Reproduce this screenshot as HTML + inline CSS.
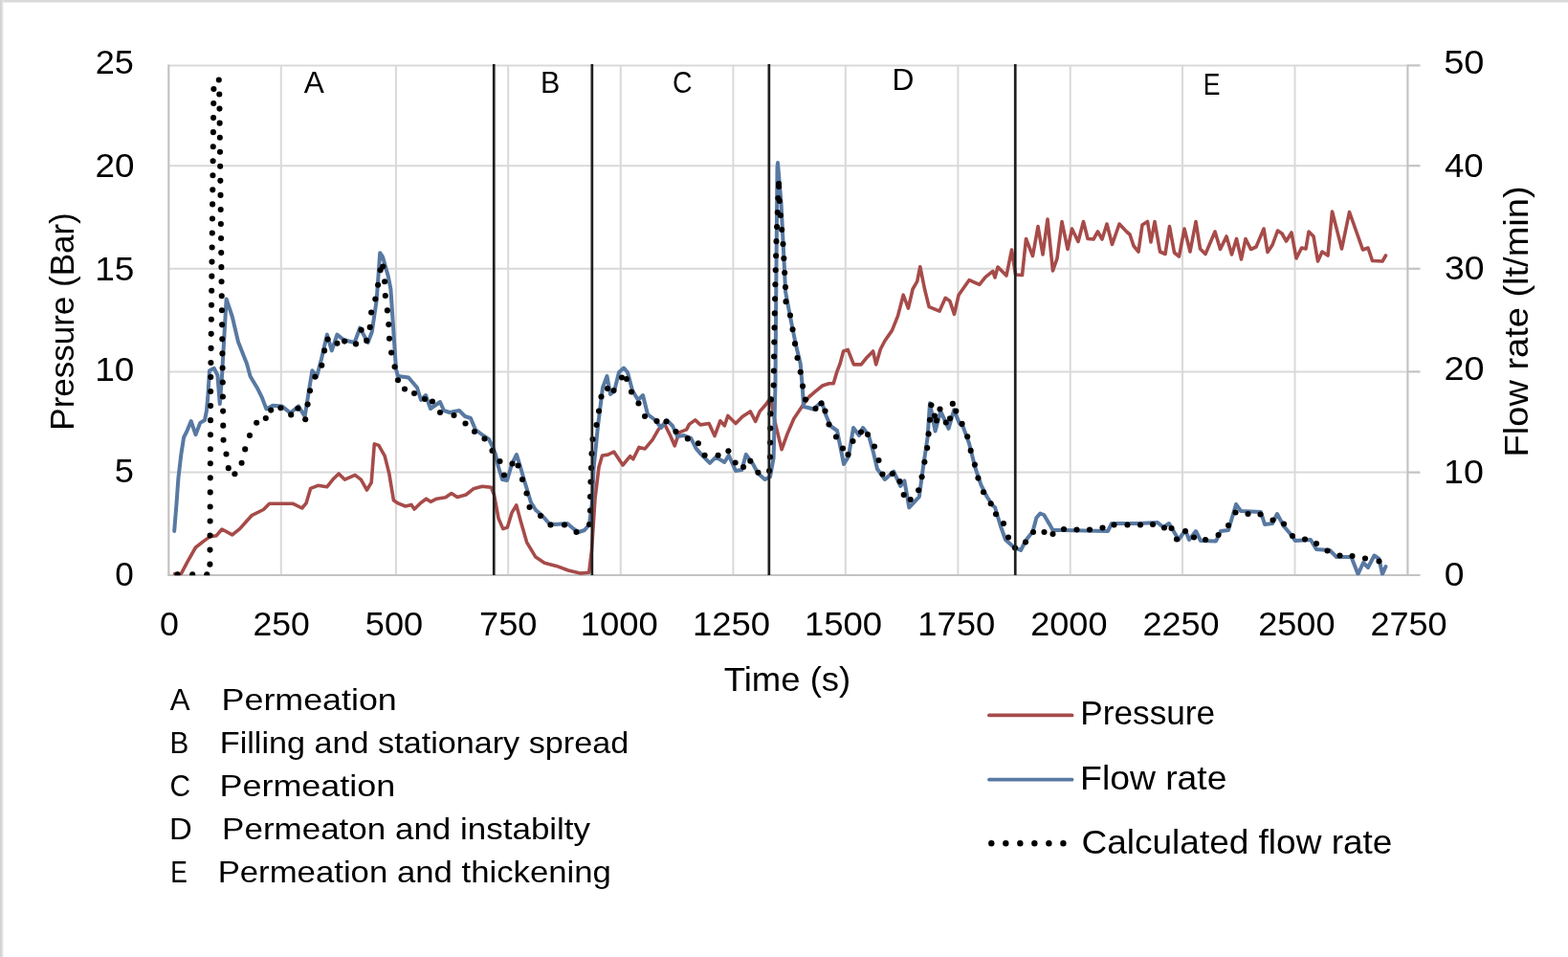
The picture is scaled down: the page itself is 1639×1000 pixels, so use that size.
<!DOCTYPE html>
<html><head><meta charset="utf-8"><title>Pressure and flow rate vs time</title>
<style>
html,body{margin:0;padding:0;background:#fff;}
body{width:1639px;height:1000px;overflow:hidden;}
svg{display:block;}
</style></head><body>
<svg width="1639" height="1000" viewBox="0 0 1639 1000">
<rect x="0" y="0" width="1639" height="1000" fill="#ffffff"/>
<rect x="0" y="0" width="1639" height="2" fill="#d9d9d9"/>
<rect x="0" y="2" width="1639" height="1" fill="#ececec"/>
<rect x="0" y="0" width="2.5" height="1000" fill="#d4d4d4"/>
<rect x="2.5" y="0" width="1" height="1000" fill="#e8e8e8"/>
<g stroke="#d9d9d9" stroke-width="2" fill="none">
<line x1="293.8" y1="68.4" x2="293.8" y2="601.0"/>
<line x1="413.9" y1="68.4" x2="413.9" y2="601.0"/>
<line x1="531.2" y1="68.4" x2="531.2" y2="601.0"/>
<line x1="648.8" y1="68.4" x2="648.8" y2="601.0"/>
<line x1="766.4" y1="68.4" x2="766.4" y2="601.0"/>
<line x1="883.8" y1="68.4" x2="883.8" y2="601.0"/>
<line x1="1001.4" y1="68.4" x2="1001.4" y2="601.0"/>
<line x1="1118.7" y1="68.4" x2="1118.7" y2="601.0"/>
<line x1="1236.0" y1="68.4" x2="1236.0" y2="601.0"/>
<line x1="1353.5" y1="68.4" x2="1353.5" y2="601.0"/>
<line x1="176.3" y1="68.4" x2="1471.4" y2="68.4"/>
<line x1="176.3" y1="173.2" x2="1471.4" y2="173.2"/>
<line x1="176.3" y1="280.8" x2="1471.4" y2="280.8"/>
<line x1="176.3" y1="388.4" x2="1471.4" y2="388.4"/>
<line x1="176.3" y1="493.6" x2="1471.4" y2="493.6"/>
</g>
<g stroke="#c3c3c3" stroke-width="2.2" fill="none">
<line x1="176.3" y1="67.4" x2="176.3" y2="602.0"/>
<line x1="1471.4" y1="67.4" x2="1471.4" y2="602.0"/>
<line x1="175.3" y1="601.0" x2="1484.5" y2="601.0"/>
<line x1="1471.4" y1="68.4" x2="1484.5" y2="68.4"/>
<line x1="1471.4" y1="173.2" x2="1484.5" y2="173.2"/>
<line x1="1471.4" y1="280.8" x2="1484.5" y2="280.8"/>
<line x1="1471.4" y1="388.4" x2="1484.5" y2="388.4"/>
<line x1="1471.4" y1="493.6" x2="1484.5" y2="493.6"/>
</g>
<clipPath id="pa"><rect x="170" y="40" width="1310" height="561.2"/></clipPath>
<g clip-path="url(#pa)">
<polyline points="182.6,599.6 189.3,599.6 195.9,587.2 204.5,572.0 213.0,565.4 219.7,560.6 226.3,559.7 232.0,553.0 242.8,558.8 250.6,552.6 263.0,538.7 275.4,532.5 281.6,526.3 306.4,526.3 315.7,531.0 320.0,525.9 324.6,510.4 332.4,507.3 341.7,508.8 347.9,501.1 354.1,494.9 360.3,501.1 371.1,496.4 377.3,501.1 383.5,512.0 388.2,504.2 391.3,463.9 395.9,465.4 402.1,476.3 406.8,494.9 411.4,522.8 416.1,525.9 423.8,529.0 430.0,527.4 433.1,532.1 439.3,525.9 445.5,521.2 450.2,524.3 456.4,521.2 465.7,519.7 471.9,515.5 478.0,519.5 487.0,517.0 494.8,510.8 504.1,508.3 513.4,509.2 516.5,517.0 521.1,541.8 525.8,552.6 530.4,551.1 535.1,535.6 539.7,527.8 544.4,544.9 550.6,566.6 559.9,582.1 569.2,588.3 581.6,591.4 594.0,596.0 606.4,599.1 615.7,598.2 618.5,575.0 622.0,521.0 626.0,488.0 629.5,476.0 635.5,475.1 641.7,472.0 651.0,486.0 658.7,476.7 661.8,479.8 668.0,467.4 674.2,468.9 682.0,459.6 688.2,448.8 694.4,442.6 700.6,455.0 705.2,465.8 709.9,451.9 717.6,448.8 720.4,443.4 726.7,438.9 732.1,443.9 741.1,442.5 747.0,455.6 752.8,439.8 757.3,444.8 760.9,434.4 769.0,442.5 776.2,435.3 784.3,429.9 789.7,440.3 794.2,429.9 800.5,422.7 805.5,416.0 810.4,442.5 817.1,469.7 822.9,453.6 829.8,437.5 839.0,423.7 845.9,414.5 852.8,408.7 859.7,403.0 866.6,400.7 871.2,400.7 874.6,389.2 878.1,380.0 881.6,367.0 886.2,365.4 892.4,380.9 900.2,380.9 906.4,373.2 912.6,367.0 915.7,380.9 920.3,365.0 925.0,356.0 932.4,345.4 938.6,329.9 944.2,308.2 949.4,322.1 954.1,302.0 958.7,294.2 961.8,278.7 966.5,302.0 971.1,320.6 982.0,325.2 988.2,311.3 992.8,314.4 997.5,328.3 1002.1,308.2 1013.0,292.7 1023.8,297.3 1030.0,289.6 1037.8,283.4 1040.0,290.0 1043.0,279.0 1052.0,288.0 1057.5,261.0 1061.5,287.0 1068.5,287.5 1072.5,249.5 1079.5,267.5 1085.0,236.5 1090.0,266.0 1095.0,229.0 1100.5,283.0 1105.0,270.0 1110.0,231.5 1116.0,260.5 1120.5,239.0 1127.0,252.5 1132.5,231.5 1137.0,249.5 1143.0,250.0 1147.5,242.0 1152.0,250.0 1157.0,234.0 1162.5,255.5 1170.0,234.0 1178.0,242.5 1181.0,245.0 1185.0,257.0 1190.0,263.0 1194.0,235.0 1199.5,231.5 1203.0,253.0 1207.0,231.5 1212.5,263.0 1218.0,265.5 1222.5,236.5 1227.5,264.0 1232.5,268.0 1238.0,239.0 1244.0,263.0 1250.0,231.5 1254.5,260.0 1260.0,265.5 1270.0,242.0 1275.5,260.5 1282.0,247.0 1287.5,266.0 1292.5,249.5 1297.5,271.0 1302.0,249.5 1307.5,260.5 1313.0,258.0 1321.0,239.0 1325.0,263.5 1330.0,256.0 1335.5,241.0 1340.0,244.0 1344.5,252.0 1350.0,243.0 1355.0,270.0 1360.5,259.0 1365.0,260.0 1368.0,242.0 1373.0,247.0 1377.5,273.0 1382.0,263.0 1388.0,267.0 1392.5,221.0 1402.5,260.0 1410.5,221.5 1424.5,261.0 1430.0,259.0 1434.5,272.5 1445.0,273.0 1448.5,267.0" fill="none" stroke="#a64b49" stroke-width="3.6" stroke-linejoin="round" stroke-linecap="round"/>
<polyline points="182.2,554.9 184.5,526.4 186.4,499.8 189.3,475.1 192.1,457.0 195.0,451.4 199.7,440.0 204.5,454.2 209.2,441.9 214.0,439.0 215.9,429.5 217.2,416.0 219.0,387.2 223.8,384.8 227.4,392.0 229.8,422.0 232.0,393.0 236.6,312.4 242.8,331.0 249.0,357.3 258.0,380.0 261.6,393.2 268.8,405.2 273.6,414.8 278.4,427.4 285.0,423.8 294.6,424.4 303.6,431.6 312.0,424.4 318.6,435.2 324.0,401.6 326.4,387.2 331.2,393.2 336.0,375.0 341.9,349.6 346.8,366.4 352.4,349.6 359.4,355.2 370.6,358.0 376.2,342.6 384.6,358.0 388.8,346.8 393.7,313.2 397.2,264.2 400.0,268.4 405.6,288.0 408.4,302.0 411.2,344.0 414.0,386.0 416.0,393.0 427.0,394.5 436.0,405.0 440.0,418.0 445.0,413.0 450.0,427.0 460.0,420.0 464.0,429.0 470.0,431.0 480.0,429.0 486.0,435.0 492.0,437.0 497.0,449.0 505.0,455.0 511.0,459.0 515.0,467.0 518.0,475.0 521.0,488.0 525.0,501.0 530.0,502.0 535.0,485.0 540.0,475.0 544.0,488.0 548.0,502.0 555.0,525.0 560.0,533.0 567.0,539.0 574.0,547.0 580.0,548.0 593.0,547.0 600.0,553.0 605.0,556.0 611.0,554.0 616.0,548.0 619.0,525.0 620.5,490.0 625.0,445.0 630.0,405.0 634.5,393.0 638.0,412.0 642.0,409.0 647.0,389.0 652.0,384.5 656.0,389.0 661.0,408.0 667.0,418.0 672.0,413.0 677.0,433.0 685.0,439.0 691.0,447.0 697.0,439.0 703.0,445.0 708.0,456.0 715.0,455.0 722.2,457.8 727.6,468.6 733.0,474.9 742.0,483.9 748.3,477.6 757.3,483.0 761.8,475.8 769.0,492.0 775.3,491.1 779.8,474.9 787.0,484.8 792.4,494.7 799.6,501.0 805.0,498.3 808.6,478.5 810.5,400.0 811.3,300.0 812.5,175.0 813.0,170.1 816.5,212.0 819.6,274.0 821.1,305.0 825.8,329.8 832.0,360.8 836.7,380.0 839.0,408.0 840.0,425.0 845.0,426.0 850.0,427.5 859.0,420.0 863.0,433.0 868.0,445.0 875.0,450.0 882.0,485.0 887.0,477.0 892.0,447.0 898.0,455.0 902.0,447.0 908.0,455.0 913.0,473.0 917.0,490.0 925.0,501.0 934.2,492.6 941.2,508.0 945.4,502.4 950.3,530.4 960.8,519.2 965.0,488.0 969.6,457.0 972.0,421.2 977.6,450.6 983.2,429.6 991.6,447.8 997.2,428.2 1002.8,442.2 1006.8,446.1 1013.0,463.2 1019.2,488.0 1025.4,506.6 1031.6,519.0 1037.8,528.3 1040.0,530.0 1046.0,550.0 1051.0,564.0 1060.0,572.0 1067.0,575.0 1072.0,565.0 1079.5,555.5 1083.4,541.0 1087.3,536.5 1091.2,538.0 1098.0,549.6 1100.5,554.0 1110.0,554.0 1158.0,555.0 1162.0,547.0 1190.0,547.0 1210.0,546.0 1216.0,551.0 1222.0,547.0 1232.0,564.0 1239.0,554.0 1243.0,564.0 1250.0,555.0 1255.0,565.0 1271.0,565.5 1276.0,555.0 1284.0,554.0 1292.0,527.0 1297.0,534.0 1318.0,535.0 1322.0,548.0 1330.0,547.0 1335.0,537.0 1342.0,550.0 1348.0,557.0 1354.0,565.0 1370.0,564.0 1376.0,574.0 1390.0,575.0 1397.0,582.0 1412.5,582.0 1419.5,600.0 1425.0,588.0 1430.0,593.0 1436.5,580.5 1441.5,584.0 1445.0,600.0 1448.5,592.0" fill="none" stroke="#5879a2" stroke-width="4.0" stroke-linejoin="round" stroke-linecap="round"/>
<polyline points="223.4,93.0 220.2,400.0 219.4,599.6" fill="none" stroke="#000000" stroke-width="6.1" stroke-linejoin="round" stroke-linecap="round" stroke-dasharray="0 15.05" stroke-dashoffset="0.0"/>
<polyline points="228.8,83.5 229.3,99.0 232.8,400.0 233.4,459.0 236.4,473.6 238.2,488.6 245.4,495.2" fill="none" stroke="#000000" stroke-width="6.1" stroke-linejoin="round" stroke-linecap="round" stroke-dasharray="0 15.05" stroke-dashoffset="0.0"/>
<polyline points="814.0,192.0 812.6,225.0 811.5,252.0 810.5,290.0 809.5,341.0 808.6,404.0 805.5,420.0 805.0,477.0 804.6,492.0" fill="none" stroke="#000000" stroke-width="6.1" stroke-linejoin="round" stroke-linecap="round" stroke-dasharray="0 15.05" stroke-dashoffset="0.0"/>
<polyline points="814.0,192.0 815.0,215.0 818.5,254.5 821.0,300.0 821.5,315.5 826.0,329.5 828.5,344.0 831.0,359.2 833.4,373.6 836.6,388.0 839.0,403.2 842.2,417.6" fill="none" stroke="#000000" stroke-width="6.1" stroke-linejoin="round" stroke-linecap="round" stroke-dasharray="0 15.05" stroke-dashoffset="-3.0"/>
<g fill="#000000"><circle cx="185.5" cy="600.3" r="3.05"/><circle cx="201.2" cy="600.3" r="3.05"/><circle cx="216.3" cy="600.3" r="3.05"/><circle cx="245.4" cy="495.2" r="3.05"/><circle cx="252.6" cy="483.8" r="3.05"/><circle cx="256.2" cy="469.4" r="3.05"/><circle cx="261.0" cy="455.0" r="3.05"/><circle cx="268.2" cy="441.8" r="3.05"/><circle cx="277.8" cy="437.0" r="3.05"/><circle cx="283.2" cy="428.6" r="3.05"/><circle cx="293.4" cy="426.2" r="3.05"/><circle cx="304.2" cy="433.4" r="3.05"/><circle cx="311.4" cy="426.8" r="3.05"/><circle cx="319.2" cy="438.2" r="3.05"/><circle cx="321.6" cy="422.6" r="3.05"/><circle cx="324.0" cy="408.2" r="3.05"/><circle cx="329.4" cy="393.8" r="3.05"/><circle cx="336.3" cy="381.8" r="3.05"/><circle cx="339.1" cy="366.4" r="3.05"/><circle cx="342.6" cy="354.5" r="3.05"/><circle cx="352.4" cy="358.7" r="3.05"/><circle cx="360.1" cy="356.6" r="3.05"/><circle cx="372.0" cy="359.4" r="3.05"/><circle cx="377.6" cy="344.7" r="3.05"/><circle cx="383.2" cy="355.9" r="3.05"/><circle cx="386.7" cy="341.9" r="3.05"/><circle cx="388.1" cy="326.5" r="3.05"/><circle cx="392.3" cy="312.5" r="3.05"/><circle cx="395.1" cy="297.8" r="3.05"/><circle cx="397.6" cy="282.2" r="3.05"/><circle cx="400.3" cy="278.6" r="3.05"/><circle cx="402.1" cy="294.3" r="3.05"/><circle cx="402.8" cy="309.0" r="3.05"/><circle cx="404.9" cy="324.4" r="3.05"/><circle cx="406.3" cy="339.1" r="3.05"/><circle cx="407.0" cy="353.8" r="3.05"/><circle cx="409.1" cy="368.5" r="3.05"/><circle cx="412.6" cy="383.2" r="3.05"/><circle cx="416.0" cy="397.2" r="3.05"/><circle cx="423.0" cy="406.5" r="3.05"/><circle cx="433.0" cy="411.0" r="3.05"/><circle cx="444.0" cy="417.0" r="3.05"/><circle cx="452.0" cy="419.5" r="3.05"/><circle cx="460.0" cy="431.0" r="3.05"/><circle cx="474.5" cy="434.0" r="3.05"/><circle cx="486.5" cy="442.5" r="3.05"/><circle cx="496.0" cy="451.0" r="3.05"/><circle cx="506.5" cy="458.5" r="3.05"/><circle cx="514.5" cy="471.0" r="3.05"/><circle cx="522.5" cy="482.0" r="3.05"/><circle cx="527.0" cy="496.5" r="3.05"/><circle cx="535.5" cy="484.5" r="3.05"/><circle cx="541.5" cy="486.5" r="3.05"/><circle cx="546.0" cy="501.0" r="3.05"/><circle cx="550.5" cy="515.5" r="3.05"/><circle cx="553.5" cy="530.0" r="3.05"/><circle cx="565.0" cy="539.0" r="3.05"/><circle cx="575.5" cy="548.5" r="3.05"/><circle cx="590.0" cy="548.5" r="3.05"/><circle cx="602.5" cy="556.0" r="3.05"/><circle cx="616.0" cy="548.0" r="3.05"/><circle cx="617.0" cy="533.5" r="3.05"/><circle cx="617.0" cy="519.0" r="3.05"/><circle cx="617.5" cy="503.5" r="3.05"/><circle cx="618.0" cy="489.0" r="3.05"/><circle cx="618.5" cy="474.0" r="3.05"/><circle cx="619.5" cy="459.0" r="3.05"/><circle cx="623.5" cy="444.0" r="3.05"/><circle cx="626.0" cy="429.5" r="3.05"/><circle cx="628.5" cy="414.5" r="3.05"/><circle cx="635.0" cy="406.0" r="3.05"/><circle cx="641.5" cy="408.0" r="3.05"/><circle cx="650.0" cy="394.5" r="3.05"/><circle cx="655.0" cy="396.0" r="3.05"/><circle cx="660.0" cy="409.5" r="3.05"/><circle cx="667.5" cy="421.5" r="3.05"/><circle cx="674.0" cy="435.0" r="3.05"/><circle cx="686.5" cy="440.0" r="3.05"/><circle cx="696.5" cy="440.5" r="3.05"/><circle cx="706.5" cy="451.0" r="3.05"/><circle cx="718.8" cy="458.4" r="3.05"/><circle cx="729.9" cy="463.2" r="3.05"/><circle cx="736.6" cy="475.8" r="3.05"/><circle cx="750.6" cy="475.8" r="3.05"/><circle cx="761.4" cy="471.3" r="3.05"/><circle cx="768.6" cy="483.5" r="3.05"/><circle cx="777.1" cy="488.0" r="3.05"/><circle cx="784.3" cy="481.7" r="3.05"/><circle cx="792.4" cy="493.8" r="3.05"/><circle cx="804.1" cy="492.0" r="3.05"/><circle cx="842.0" cy="417.5" r="3.05"/><circle cx="852.5" cy="427.0" r="3.05"/><circle cx="858.5" cy="421.5" r="3.05"/><circle cx="862.5" cy="429.5" r="3.05"/><circle cx="866.5" cy="443.5" r="3.05"/><circle cx="874.0" cy="456.5" r="3.05"/><circle cx="881.0" cy="468.5" r="3.05"/><circle cx="886.5" cy="475.0" r="3.05"/><circle cx="891.5" cy="461.0" r="3.05"/><circle cx="900.0" cy="451.5" r="3.05"/><circle cx="907.0" cy="454.0" r="3.05"/><circle cx="914.0" cy="466.5" r="3.05"/><circle cx="918.5" cy="481.0" r="3.05"/><circle cx="922.5" cy="495.5" r="3.05"/><circle cx="932.9" cy="495.0" r="3.05"/><circle cx="940.5" cy="503.1" r="3.05"/><circle cx="944.7" cy="517.1" r="3.05"/><circle cx="951.7" cy="522.0" r="3.05"/><circle cx="960.1" cy="512.2" r="3.05"/><circle cx="963.6" cy="498.2" r="3.05"/><circle cx="966.4" cy="482.8" r="3.05"/><circle cx="969.2" cy="468.1" r="3.05"/><circle cx="970.6" cy="453.4" r="3.05"/><circle cx="972.0" cy="438.7" r="3.05"/><circle cx="973.4" cy="423.3" r="3.05"/><circle cx="976.9" cy="434.5" r="3.05"/><circle cx="979.0" cy="439.4" r="3.05"/><circle cx="982.5" cy="427.5" r="3.05"/><circle cx="988.8" cy="441.5" r="3.05"/><circle cx="993.0" cy="437.3" r="3.05"/><circle cx="995.8" cy="421.9" r="3.05"/><circle cx="999.3" cy="429.6" r="3.05"/><circle cx="1005.6" cy="442.9" r="3.05"/><circle cx="1011.2" cy="456.2" r="3.05"/><circle cx="1014.7" cy="470.9" r="3.05"/><circle cx="1018.9" cy="485.6" r="3.05"/><circle cx="1022.4" cy="499.6" r="3.05"/><circle cx="1028.0" cy="514.3" r="3.05"/><circle cx="1035.7" cy="526.2" r="3.05"/><circle cx="1041.0" cy="537.3" r="3.05"/><circle cx="1049.0" cy="547.0" r="3.05"/><circle cx="1054.0" cy="561.5" r="3.05"/><circle cx="1061.0" cy="572.5" r="3.05"/><circle cx="1072.0" cy="566.5" r="3.05"/><circle cx="1080.0" cy="556.0" r="3.05"/><circle cx="1091.5" cy="556.0" r="3.05"/><circle cx="1100.5" cy="558.0" r="3.05"/><circle cx="1112.0" cy="553.0" r="3.05"/><circle cx="1125.5" cy="553.5" r="3.05"/><circle cx="1139.0" cy="553.5" r="3.05"/><circle cx="1152.5" cy="551.5" r="3.05"/><circle cx="1164.5" cy="548.5" r="3.05"/><circle cx="1178.5" cy="548.5" r="3.05"/><circle cx="1192.0" cy="548.5" r="3.05"/><circle cx="1205.0" cy="548.0" r="3.05"/><circle cx="1217.0" cy="551.5" r="3.05"/><circle cx="1224.5" cy="552.0" r="3.05"/><circle cx="1230.0" cy="563.5" r="3.05"/><circle cx="1239.0" cy="555.0" r="3.05"/><circle cx="1248.0" cy="561.5" r="3.05"/><circle cx="1260.0" cy="564.0" r="3.05"/><circle cx="1273.5" cy="559.0" r="3.05"/><circle cx="1284.0" cy="549.0" r="3.05"/><circle cx="1291.5" cy="535.5" r="3.05"/><circle cx="1304.5" cy="537.0" r="3.05"/><circle cx="1317.5" cy="537.5" r="3.05"/><circle cx="1330.5" cy="543.5" r="3.05"/><circle cx="1342.0" cy="547.5" r="3.05"/><circle cx="1351.0" cy="560.0" r="3.05"/><circle cx="1364.0" cy="563.5" r="3.05"/><circle cx="1376.0" cy="568.0" r="3.05"/><circle cx="1387.5" cy="575.5" r="3.05"/><circle cx="1400.5" cy="580.5" r="3.05"/><circle cx="1413.5" cy="581.0" r="3.05"/><circle cx="1427.0" cy="583.5" r="3.05"/><circle cx="1441.5" cy="586.5" r="3.05"/></g>
</g>
<line x1="516.25" y1="66.90" x2="516.25" y2="601.00" stroke="#1f1f1f" stroke-width="2.7"/>
<line x1="618.85" y1="66.90" x2="618.85" y2="601.00" stroke="#1f1f1f" stroke-width="2.7"/>
<line x1="803.85" y1="66.90" x2="803.85" y2="601.00" stroke="#1f1f1f" stroke-width="2.7"/>
<line x1="1061.25" y1="66.90" x2="1061.25" y2="601.00" stroke="#1f1f1f" stroke-width="2.7"/>
<g font-family="&apos;Liberation Sans&apos;, Arial, sans-serif" fill="#000000">
<text x="99.80" y="76.80" font-size="34.50" textLength="40.13" lengthAdjust="spacingAndGlyphs">25</text>
<text x="99.46" y="184.60" font-size="34.50" textLength="40.99" lengthAdjust="spacingAndGlyphs">20</text>
<text x="99.19" y="292.50" font-size="34.50" textLength="41.18" lengthAdjust="spacingAndGlyphs">15</text>
<text x="99.19" y="397.50" font-size="34.50" textLength="41.06" lengthAdjust="spacingAndGlyphs">10</text>
<text x="119.85" y="504.20" font-size="34.50" textLength="20.18" lengthAdjust="spacingAndGlyphs">5</text>
<text x="120.23" y="612.00" font-size="34.50" textLength="19.55" lengthAdjust="spacingAndGlyphs">0</text>
<text x="1509.28" y="77.40" font-size="34.50" textLength="42.21" lengthAdjust="spacingAndGlyphs">50</text>
<text x="1509.96" y="184.80" font-size="34.50" textLength="40.68" lengthAdjust="spacingAndGlyphs">40</text>
<text x="1509.98" y="292.20" font-size="34.50" textLength="41.48" lengthAdjust="spacingAndGlyphs">30</text>
<text x="1509.51" y="397.00" font-size="34.50" textLength="41.97" lengthAdjust="spacingAndGlyphs">20</text>
<text x="1509.14" y="504.80" font-size="34.50" textLength="41.84" lengthAdjust="spacingAndGlyphs">10</text>
<text x="1509.75" y="611.80" font-size="34.50" textLength="20.71" lengthAdjust="spacingAndGlyphs">0</text>
<text x="167.10" y="664.20" font-size="34.50" textLength="19.90" lengthAdjust="spacingAndGlyphs">0</text>
<text x="264.42" y="664.20" font-size="34.50" textLength="59.28" lengthAdjust="spacingAndGlyphs">250</text>
<text x="381.86" y="664.20" font-size="34.50" textLength="60.27" lengthAdjust="spacingAndGlyphs">500</text>
<text x="501.05" y="664.20" font-size="34.50" textLength="60.37" lengthAdjust="spacingAndGlyphs">750</text>
<text x="606.73" y="664.20" font-size="34.50" textLength="81.12" lengthAdjust="spacingAndGlyphs">1000</text>
<text x="723.93" y="664.20" font-size="34.50" textLength="81.01" lengthAdjust="spacingAndGlyphs">1250</text>
<text x="841.03" y="664.20" font-size="34.50" textLength="81.12" lengthAdjust="spacingAndGlyphs">1500</text>
<text x="959.23" y="664.20" font-size="34.50" textLength="81.01" lengthAdjust="spacingAndGlyphs">1750</text>
<text x="1077.30" y="664.20" font-size="34.50" textLength="80.13" lengthAdjust="spacingAndGlyphs">2000</text>
<text x="1194.50" y="664.20" font-size="34.50" textLength="80.02" lengthAdjust="spacingAndGlyphs">2250</text>
<text x="1315.30" y="664.20" font-size="34.50" textLength="80.13" lengthAdjust="spacingAndGlyphs">2500</text>
<text x="1432.50" y="664.20" font-size="34.50" textLength="80.13" lengthAdjust="spacingAndGlyphs">2750</text>
<text x="756.80" y="722.00" font-size="35.40" textLength="132.46" lengthAdjust="spacingAndGlyphs">Time (s)</text>
<text transform="translate(77.20,446.80) rotate(-90)" x="-2.87" y="0" font-size="35.60" textLength="227.42" lengthAdjust="spacingAndGlyphs">Pressure (Bar)</text>
<text transform="translate(1597.00,474.30) rotate(-90)" x="-3.12" y="0" font-size="35.60" textLength="282.99" lengthAdjust="spacingAndGlyphs">Flow rate (lt/min)</text>
<text x="317.74" y="96.60" font-size="32.20" textLength="21.13" lengthAdjust="spacingAndGlyphs">A</text>
<text x="565.10" y="96.60" font-size="32.20" textLength="20.31" lengthAdjust="spacingAndGlyphs">B</text>
<text x="702.95" y="97.00" font-size="32.20" textLength="20.54" lengthAdjust="spacingAndGlyphs">C</text>
<text x="932.40" y="94.20" font-size="32.20" textLength="22.93" lengthAdjust="spacingAndGlyphs">D</text>
<text x="1257.82" y="99.00" font-size="32.20" textLength="17.72" lengthAdjust="spacingAndGlyphs">E</text>
<text x="177.64" y="742.00" font-size="31.90" textLength="20.82" lengthAdjust="spacingAndGlyphs">A</text>
<text x="231.56" y="742.00" font-size="31.90" textLength="183.26" lengthAdjust="spacingAndGlyphs">Permeation</text>
<text x="177.46" y="787.00" font-size="31.90" textLength="19.81" lengthAdjust="spacingAndGlyphs">B</text>
<text x="229.80" y="787.00" font-size="31.90" textLength="427.39" lengthAdjust="spacingAndGlyphs">Filling and stationary spread</text>
<text x="177.58" y="832.00" font-size="31.90" textLength="21.56" lengthAdjust="spacingAndGlyphs">C</text>
<text x="229.45" y="832.00" font-size="31.90" textLength="183.88" lengthAdjust="spacingAndGlyphs">Permeation</text>
<text x="177.10" y="877.00" font-size="31.90" textLength="23.79" lengthAdjust="spacingAndGlyphs">D</text>
<text x="232.13" y="877.00" font-size="31.90" textLength="384.95" lengthAdjust="spacingAndGlyphs">Permeaton and instabilty</text>
<text x="178.24" y="921.80" font-size="31.90" textLength="17.60" lengthAdjust="spacingAndGlyphs">E</text>
<text x="227.65" y="921.80" font-size="31.90" textLength="411.27" lengthAdjust="spacingAndGlyphs">Permeation and thickening</text>
<text x="1129.32" y="757.30" font-size="35.90" textLength="140.75" lengthAdjust="spacingAndGlyphs">Pressure</text>
<text x="1129.14" y="824.50" font-size="35.90" textLength="153.31" lengthAdjust="spacingAndGlyphs">Flow rate</text>
<text x="1130.51" y="891.80" font-size="35.90" textLength="324.92" lengthAdjust="spacingAndGlyphs">Calculated flow rate</text>
</g>
<line x1="1034" y1="747.4" x2="1120.5" y2="747.4" stroke="#a64b49" stroke-width="3.8" stroke-linecap="round"/>
<line x1="1034" y1="814.7" x2="1120.5" y2="814.7" stroke="#5879a2" stroke-width="3.8" stroke-linecap="round"/>
<line x1="1036.3" y1="881.2" x2="1112.0" y2="881.2" stroke="#000" stroke-width="6.4" stroke-linecap="round" stroke-dasharray="0 15.02"/>
</svg>
</body></html>
